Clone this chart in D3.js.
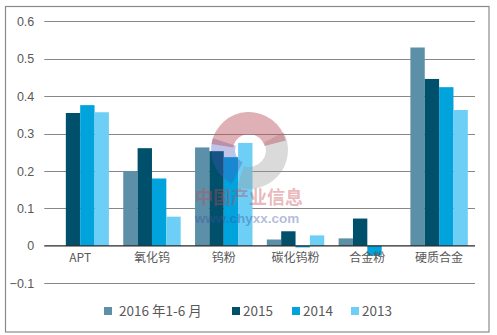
<!DOCTYPE html>
<html>
<head>
<meta charset="utf-8">
<script src="https://cdn.jsdelivr.net/npm/d3@7"></script>
<style>
  html, body { margin: 0; padding: 0; background: #fff; }
  svg { display: block; }
  text { font-family: "Noto Sans CJK SC", "Liberation Sans", sans-serif; }
</style>
</head>
<body>
<svg id="chart" width="497" height="335"></svg>
<script>
// Product categories along the x axis
const categories = ["APT", "氧化钨", "钨粉", "碳化钨粉", "合金粉", "硬质合金"];
// Series names shown in the legend
const seriesNames = ["2016 年1-6 月", "2015", "2014", "2013"];
const seriesColors = ["#5B90A8", "#00506B", "#00A3DC", "#6DCFF6"];
// Values per series, one per category (null = no bar)
const s2016H1 = [null, 0.200, 0.263, 0.017, 0.020, 0.530];
const s2015 = [0.355, 0.261, 0.253, 0.039, 0.073, 0.446];
const s2014 = [0.376, 0.180, 0.237, -0.004, -0.026, 0.424];
const s2013 = [0.357, 0.078, 0.275, 0.028, null, 0.363];
const seriesValues = [s2016H1, s2015, s2014, s2013];
// Y axis ticks
const yTicks = [-0.1, 0, 0.1, 0.2, 0.3, 0.4, 0.5, 0.6];

const svg = d3.select("#chart");

// Outer frame
svg.append("rect")
  .attr("x", 5.5).attr("y", 6.5)
  .attr("width", 483.5).attr("height", 325.5)
  .attr("fill", "none").attr("stroke", "#8a8a8a").attr("stroke-width", 1.2);

const x = d3.scaleBand().domain(categories).range([44.3, 475]).padding(0);
const xInner = d3.scaleBand().domain(seriesNames).range([0, x.bandwidth()])
  .paddingInner(0).paddingOuter(0.5);
const y = d3.scaleLinear().domain([-0.1, 0.6]).range([283.3, 21.3]);

// Gridlines
svg.append("g").selectAll("line")
  .data(yTicks.filter(t => t !== 0))
  .join("line")
  .attr("x1", 44.3).attr("x2", 475)
  .attr("y1", d => Math.round(y(d)) + 0.5).attr("y2", d => Math.round(y(d)) + 0.5)
  .attr("stroke", "#878787").attr("stroke-width", 1);

// Y axis labels
const yAxis = d3.axisLeft(y).tickValues(yTicks).tickSize(0).tickPadding(10)
  .tickFormat(d => d === 0 ? "0" : d3.format(".1f")(d));
svg.append("g")
  .attr("transform", "translate(44.3,0)")
  .call(yAxis)
  .call(g => g.select(".domain").remove())
  .call(g => g.selectAll("text")
    .attr("fill", "#595959").attr("font-size", 12.5)
    .style("font-family", "'Liberation Sans', Arial, sans-serif"));

// Bars
const barData = [];
seriesNames.forEach((s, si) => {
  categories.forEach((c, ci) => {
    const v = seriesValues[si][ci];
    if (v !== null) barData.push({ s, si, c, v });
  });
});
svg.append("g").selectAll("rect")
  .data(barData)
  .join("rect")
  .attr("x", d => x(d.c) + xInner(d.s))
  .attr("width", xInner.bandwidth())
  .attr("y", d => y(Math.max(0, d.v)))
  .attr("height", d => Math.abs(y(d.v) - y(0)))
  .attr("fill", d => seriesColors[d.si]);

// Zero line
svg.append("line")
  .attr("x1", 44.3).attr("x2", 475)
  .attr("y1", y(0)).attr("y2", y(0))
  .attr("stroke", "#262626").attr("stroke-width", 1.2);

// Category labels
const xAxis = d3.axisBottom(x).tickSize(0).tickPadding(8);
svg.append("g")
  .attr("transform", `translate(0,${y(0)})`)
  .call(xAxis)
  .call(g => g.select(".domain").remove())
  .call(g => g.selectAll("text").attr("fill", "#595959").attr("font-size", 12)
    .style("font-family", "'Noto Sans CJK SC', 'Liberation Sans', sans-serif"));

// Watermark logo and site text
const wm = svg.append("g").attr("pointer-events", "none");
const cx = 249, cy = 150;
const arc = d3.arc();
wm.append("path")
  .attr("transform", `translate(${cx},${cy})`)
  .attr("d", arc({ innerRadius: 17, outerRadius: 39, startAngle: 0.35 * Math.PI, endAngle: 1.1 * Math.PI }))
  .attr("fill", "rgba(150,150,150,0.35)");
wm.append("path")
  .attr("transform", `translate(${cx},${cy})`)
  .attr("d", arc({ innerRadius: 14, outerRadius: 38, startAngle: 1.15 * Math.PI, endAngle: 1.6 * Math.PI }))
  .attr("fill", "rgba(70,90,190,0.35)");
wm.append("path")
  .attr("transform", `translate(${cx},${cy})`)
  .attr("d", arc({ innerRadius: 16, outerRadius: 38, startAngle: -0.45 * Math.PI, endAngle: 0.42 * Math.PI, cornerRadius: 10 }))
  .attr("fill", "rgba(185,80,90,0.45)");
wm.append("text")
  .attr("x", 249).attr("y", 204)
  .attr("text-anchor", "middle")
  .attr("font-size", 18).attr("font-weight", "bold")
  .attr("fill", "rgba(200,70,80,0.4)")
  .text("中国产业信息");
wm.append("text")
  .attr("x", 247).attr("y", 223)
  .attr("text-anchor", "middle")
  .attr("font-size", 13.5).attr("font-weight", "bold")
  .style("font-family", "'Liberation Sans', Arial, sans-serif")
  .attr("fill", "rgba(60,80,160,0.4)")
  .text("www.chyxx.com");

// Legend
const legendX = [104, 232, 292, 351];
const legend = svg.append("g").selectAll("g")
  .data(seriesNames)
  .join("g")
  .attr("transform", (d, i) => `translate(${legendX[i]},307)`);
legend.append("rect")
  .attr("width", 8).attr("height", 8)
  .attr("fill", (d, i) => seriesColors[i]);
legend.append("text")
  .attr("x", (d, i) => i === 0 ? 15 : 11).attr("y", 4)
  .attr("dy", "0.35em")
  .attr("font-size", 13.5).attr("fill", "#595959")
  .text(d => d);
</script>
</body>
</html>
